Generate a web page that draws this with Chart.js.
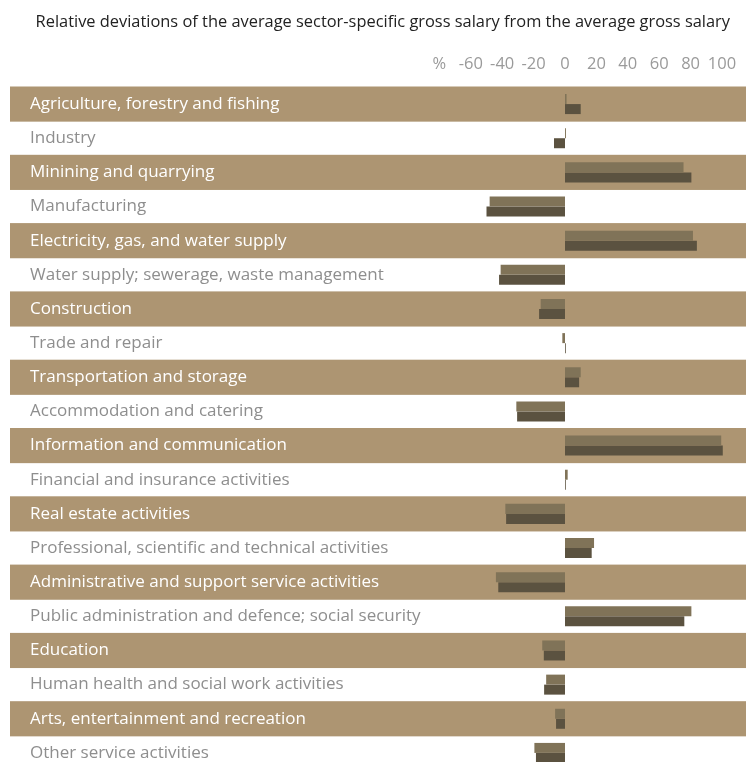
<!DOCTYPE html>
<html>
<head>
<meta charset="utf-8">
<script src="https://cdn.jsdelivr.net/npm/chart.js@4/dist/chart.umd.min.js"></script>
<style>
  html, body { margin: 0; padding: 0; background: #fff; overflow: hidden; }
  canvas { display: block; }
</style>
</head>
<body>
<canvas id="chart" width="746" height="770"></canvas>
<script>
// Sectors, top to bottom
const categories = [
  'Agriculture, forestry and fishing',
  'Industry',
  'Minining and quarrying',
  'Manufacturing',
  'Electricity, gas, and water supply',
  'Water supply; sewerage, waste management',
  'Construction',
  'Trade and repair',
  'Transportation and storage',
  'Accommodation and catering',
  'Information and communication',
  'Financial and insurance activities',
  'Real estate activities',
  'Professional, scientific and technical activities',
  'Administrative and support service activities',
  'Public administration and defence; social security',
  'Education',
  'Human health and social work activities',
  'Arts, entertainment and recreation',
  'Other service activities'
];

// Relative deviation from the average gross salary, in %
const previousPeriod = [1, 0.6, 75.5, -48, 81.5, -41, -15.5, -1.7, 10, -31, 99.5, 1.7, -38, 18.5, -44, 80.5, -14.5, -12, -6.3, -19.5];
const currentPeriod  = [10, -7, 80.5, -50, 84, -42, -16.5, 0.5, 9, -30.5, 100.5, 0.5, -37.5, 17, -42.5, 76, -13.5, -13.3, -5.7, -18.5];

// Axis tick values and their labels (the unit sits in place of -80)
const tickValues = [-80, -60, -40, -20, 0, 20, 40, 60, 80, 100];
const tickLabels = ['%', '-60', '-40', '-20', '0', '20', '40', '60', '80', '100'];

const titleText = 'Relative deviations of the average sector-specific gross salary from the average gross salary';

const FONT = "'Open Sans', 'Noto Sans', sans-serif";
const BAND = '#ad9572';

// Alternating row bands, painted before axes and bars
const rowBands = {
  id: 'rowBands',
  beforeDraw(chart) {
    const { ctx, chartArea, scales: { y } } = chart;
    const step = y.getPixelForValue(1) - y.getPixelForValue(0);
    ctx.save();
    ctx.fillStyle = BAND;
    for (let i = 0; i < categories.length; i += 2) {
      const c = y.getPixelForValue(i);
      ctx.fillRect(chartArea.left, c - step / 2 - 0.5, chartArea.right - chartArea.left, step + 1);
    }
    ctx.restore();
  }
};

// Heading line above the axis
const heading = {
  id: 'heading',
  afterDraw(chart) {
    const { ctx } = chart;
    ctx.save();
    ctx.font = `16.4px ${FONT}`;
    ctx.fillStyle = '#222';
    ctx.textAlign = 'right';
    ctx.textBaseline = 'middle';
    ctx.fillText(titleText, chart.width - 16, 22);
    ctx.restore();
  }
};

const pxPerUnit = 1.57;
const zeroOffset = 555; // distance of the zero line from the left edge of the plot
const plotWidth = 736;

new Chart(document.getElementById('chart'), {
  type: 'bar',
  data: {
    labels: categories,
    datasets: [
      { label: 'Previous period', data: previousPeriod, backgroundColor: '#807358' },
      { label: 'Current period', data: currentPeriod, backgroundColor: '#5b5240' }
    ]
  },
  options: {
    indexAxis: 'y',
    responsive: false,
    animation: false,
    layout: { padding: { left: 10, right: 0, top: 0, bottom: 0 } },
    datasets: { bar: { categoryPercentage: 0.586, barPercentage: 1.0 } },
    plugins: { legend: { display: false }, tooltip: { enabled: false }, title: { display: false } },
    scales: {
      x: {
        position: 'top',
        min: -zeroOffset / pxPerUnit,
        max: (plotWidth - zeroOffset) / pxPerUnit,
        grid: { display: false, drawTicks: false },
        border: { display: false },
        afterBuildTicks(scale) { scale.ticks = tickValues.map(v => ({ value: v })); },
        afterFit(scale) {
          scale.height = 87;
          scale.paddingLeft = 0;
          scale.paddingRight = 0;
        },
        ticks: {
          padding: 13,
          maxRotation: 0,
          autoSkip: false,
          color: '#9a9a9a',
          font: { family: FONT, size: 16.5 },
          callback: (v) => tickLabels[tickValues.indexOf(v)]
        }
      },
      y: {
        grid: { display: false, drawTicks: false },
        border: { display: false },
        afterFit(scale) {
          scale.width = 0;
          scale.paddingTop = 0;
          scale.paddingBottom = 0;
        },
        ticks: {
          mirror: true,
          padding: 20,
          autoSkip: false,
          color: (c) => (c.index % 2 === 0 ? '#ffffff' : '#8e8e8e'),
          font: { family: FONT, size: 17 }
        }
      }
    }
  },
  plugins: [rowBands, heading]
});
</script>
</body>
</html>
